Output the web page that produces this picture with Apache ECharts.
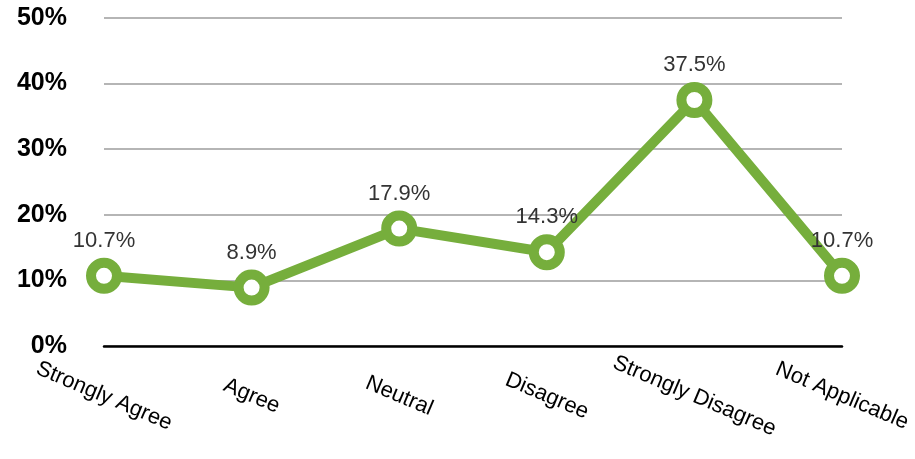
<!DOCTYPE html>
<html><head><meta charset="utf-8">
<script src="https://cdn.jsdelivr.net/npm/echarts@6/dist/echarts.min.js"></script>
<style>html,body{margin:0;padding:0;background:#fff}#c{width:915px;height:459px}</style>
</head><body><div id="c"></div>
<script>
const categories = ["Strongly Agree", "Agree", "Neutral", "Disagree", "Strongly Disagree", "Not Applicable"];
const values = [10.7, 8.9, 17.9, 14.3, 37.5, 10.7];
const yTicks = [0, 10, 20, 30, 40, 50];
const green = '#76ae3c';
const chart = echarts.init(document.getElementById('c'), null, {renderer: 'canvas'});
chart.setOption({
  animation: false,
  grid: {left: 104, right: 73, top: 18, bottom: 113},
  xAxis: {
    type: 'category', data: categories, boundaryGap: false,
    axisLine: {lineStyle: {color: '#000', width: 2.5}},
    axisTick: {show: false},
    axisLabel: {
      interval: 0, rotate: -23, align: 'center', verticalAlign: 'middle', margin: 50,
      fontFamily: 'Liberation Sans, Helvetica, Arial, sans-serif', fontSize: 22, color: '#000'
    }
  },
  yAxis: {
    type: 'value', min: yTicks[0], max: yTicks[yTicks.length - 1], interval: 10,
    axisLine: {show: false}, axisTick: {show: false},
    splitLine: {lineStyle: {color: '#b5b5b5', width: 2}},
    axisLabel: {
      margin: 37, formatter: v => v + '%',
      fontFamily: 'Liberation Sans, Helvetica, Arial, sans-serif', fontSize: 25, fontWeight: 'bold', color: '#000'
    }
  },
  series: [{
    type: 'line', data: values,
    symbol: 'circle', symbolSize: 26,
    lineStyle: {color: green, width: 10},
    itemStyle: {color: '#fff', borderColor: green, borderWidth: 10},
    label: {
      show: true, position: 'top', distance: 6, formatter: p => p.value.toFixed(1) + '%',
      fontFamily: 'Liberation Sans, Helvetica, Arial, sans-serif', fontSize: 22, color: '#333'
    },
    z: 3
  }]
});
</script></body></html>
